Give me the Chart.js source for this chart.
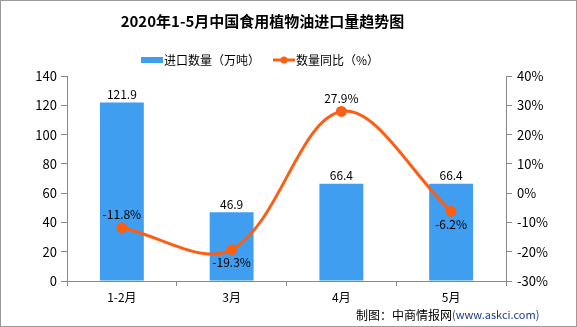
<!DOCTYPE html>
<html>
<head>
<meta charset="utf-8">
<script src="https://cdn.jsdelivr.net/npm/chart.js@4"></script>
<style>
  html, body { margin: 0; padding: 0; background: #fff; }
  #wrap { width: 577px; height: 327px; }
</style>
</head>
<body>
<div id="wrap"><canvas id="myChart" width="577" height="327"></canvas></div>
<script>
// Data
const months = ['1-2月', '3月', '4月', '5月'];
const importVolume = [121.9, 46.9, 66.4, 66.4];   // 万吨
const yoyChange = [-11.8, -19.3, 27.9, -6.2];      // %
const yoyLabelPos = ['top', 'bottom', 'top', 'bottom'];

const BLUE = '#3f9ef0';
const ORANGE = '#fb5f14';
const FONT = "'Noto Sans CJK SC', 'DejaVu Sans', sans-serif";

// little legend icons
function makeIcon(kind) {
  const c = document.createElement('canvas');
  c.width = 22; c.height = 8;
  const g = c.getContext('2d');
  if (kind === 'bar') {
    g.fillStyle = BLUE;
    g.fillRect(0, 1, 22, 6);
  } else {
    g.strokeStyle = ORANGE;
    g.lineWidth = 3;
    g.beginPath(); g.moveTo(0, 4); g.lineTo(22, 4); g.stroke();
    g.fillStyle = ORANGE;
    g.beginPath(); g.arc(11, 4, 3.5, 0, Math.PI * 2); g.fill();
  }
  return c;
}
const icons = [makeIcon('bar'), makeIcon('line')];

// the original's title + legend sit a bit left of centre
const HEADER_SHIFT = 26;

const decor = {
  id: 'decor',
  afterLayout(chart) {
    [chart.titleBlock, chart.legend].forEach(b => {
      if (b) { b.left -= HEADER_SHIFT; b.right -= HEADER_SHIFT; }
    });
  },
  beforeDraw(chart) {
    const g = chart.ctx;
    g.save();
    g.fillStyle = '#fff';
    g.fillRect(0, 0, chart.width, chart.height);
    g.restore();
  },
  afterDatasetsDraw(chart) {
    const g = chart.ctx;
    g.save();
    g.font = '12px ' + FONT;
    g.fillStyle = '#000';
    g.textAlign = 'center';
    chart.getDatasetMeta(0).data.forEach((bar, i) => {
      g.textBaseline = 'bottom';
      g.fillText(importVolume[i].toFixed(1), bar.x, bar.y - 2);
    });
    chart.getDatasetMeta(1).data.forEach((pt, i) => {
      const txt = yoyChange[i].toFixed(1) + '%';
      if (yoyLabelPos[i] === 'top') {
        g.textBaseline = 'bottom';
        g.fillText(txt, pt.x, pt.y - 7);
      } else {
        g.textBaseline = 'top';
        g.fillText(txt, pt.x, pt.y + 7);
      }
    });
    g.restore();
  },
  afterDraw(chart) {
    const g = chart.ctx;
    g.save();
    g.strokeStyle = '#9a9a9a';
    g.lineWidth = 1;
    g.strokeRect(0.5, 0.5, chart.width - 1, chart.height - 1);
    g.textBaseline = 'middle';
    g.textAlign = 'left';
    g.font = '12px ' + FONT;
    g.fillStyle = '#000';
    const a = '制图：中商情报网';
    const x0 = 356;
    g.fillText(a, x0, 315);
    const w = g.measureText(a).width;
    g.font = '11px ' + FONT;
    g.fillStyle = '#1a3a8a';
    g.fillText('(www.askci.com)', x0 + w, 315);
    g.restore();
  }
};

new Chart(document.getElementById('myChart').getContext('2d'), {
  data: {
    labels: months,
    datasets: [
      {
        type: 'bar',
        label: '进口数量（万吨）',
        data: importVolume,
        backgroundColor: BLUE,
        yAxisID: 'y',
        barPercentage: 0.4,
        categoryPercentage: 1.0,
        order: 2
      },
      {
        type: 'line',
        label: '数量同比（%）',
        data: yoyChange,
        borderColor: ORANGE,
        backgroundColor: ORANGE,
        borderWidth: 3,
        pointRadius: 4,
        pointHoverRadius: 4,
        tension: 0.35,
        yAxisID: 'y1',
        order: 1
      }
    ]
  },
  options: {
    responsive: false,
    animation: false,
    layout: { padding: 0 },
    scales: {
      x: {
        grid: { display: true, drawOnChartArea: false, offset: true, color: '#888', tickLength: 5 },
        border: { color: '#888' },
        ticks: { color: '#000', font: { family: FONT, size: 12 }, padding: 4 },
        afterFit(s) { s.height = 46; }
      },
      y: {
        position: 'left',
        min: 0, max: 140,
        ticks: { stepSize: 20, color: '#000', font: { family: FONT, size: 13 }, padding: 4 },
        grid: { drawOnChartArea: false, color: '#888', tickLength: 6 },
        border: { color: '#888' },
        afterFit(s) { s.width = 67; }
      },
      y1: {
        position: 'right',
        min: -30, max: 40,
        ticks: {
          stepSize: 10, color: '#000', font: { family: FONT, size: 13 }, padding: 5,
          callback: v => v + '%'
        },
        grid: { drawOnChartArea: false, color: '#888', tickLength: 6 },
        border: { color: '#888' },
        afterFit(s) { s.width = 71; }
      }
    },
    plugins: {
      title: {
        display: true,
        text: '2020年1-5月中国食用植物油进口量趋势图',
        color: '#000',
        font: { family: FONT, size: 15, weight: 'bold' },
        padding: { top: 12, bottom: 6 }
      },
      legend: {
        display: true,
        position: 'top',
        labels: {
          color: '#000',
          font: { family: FONT, size: 12 },
          usePointStyle: true,
          padding: 18,
          generateLabels(chart) {
            return chart.data.datasets.map((ds, i) => ({
              text: ds.label,
              pointStyle: icons[i],
              fontColor: '#000',
              datasetIndex: i,
              lineWidth: 0,
              hidden: false
            }));
          }
        }
      },
      tooltip: { enabled: false }
    }
  },
  plugins: [decor]
});
</script>
</body>
</html>
